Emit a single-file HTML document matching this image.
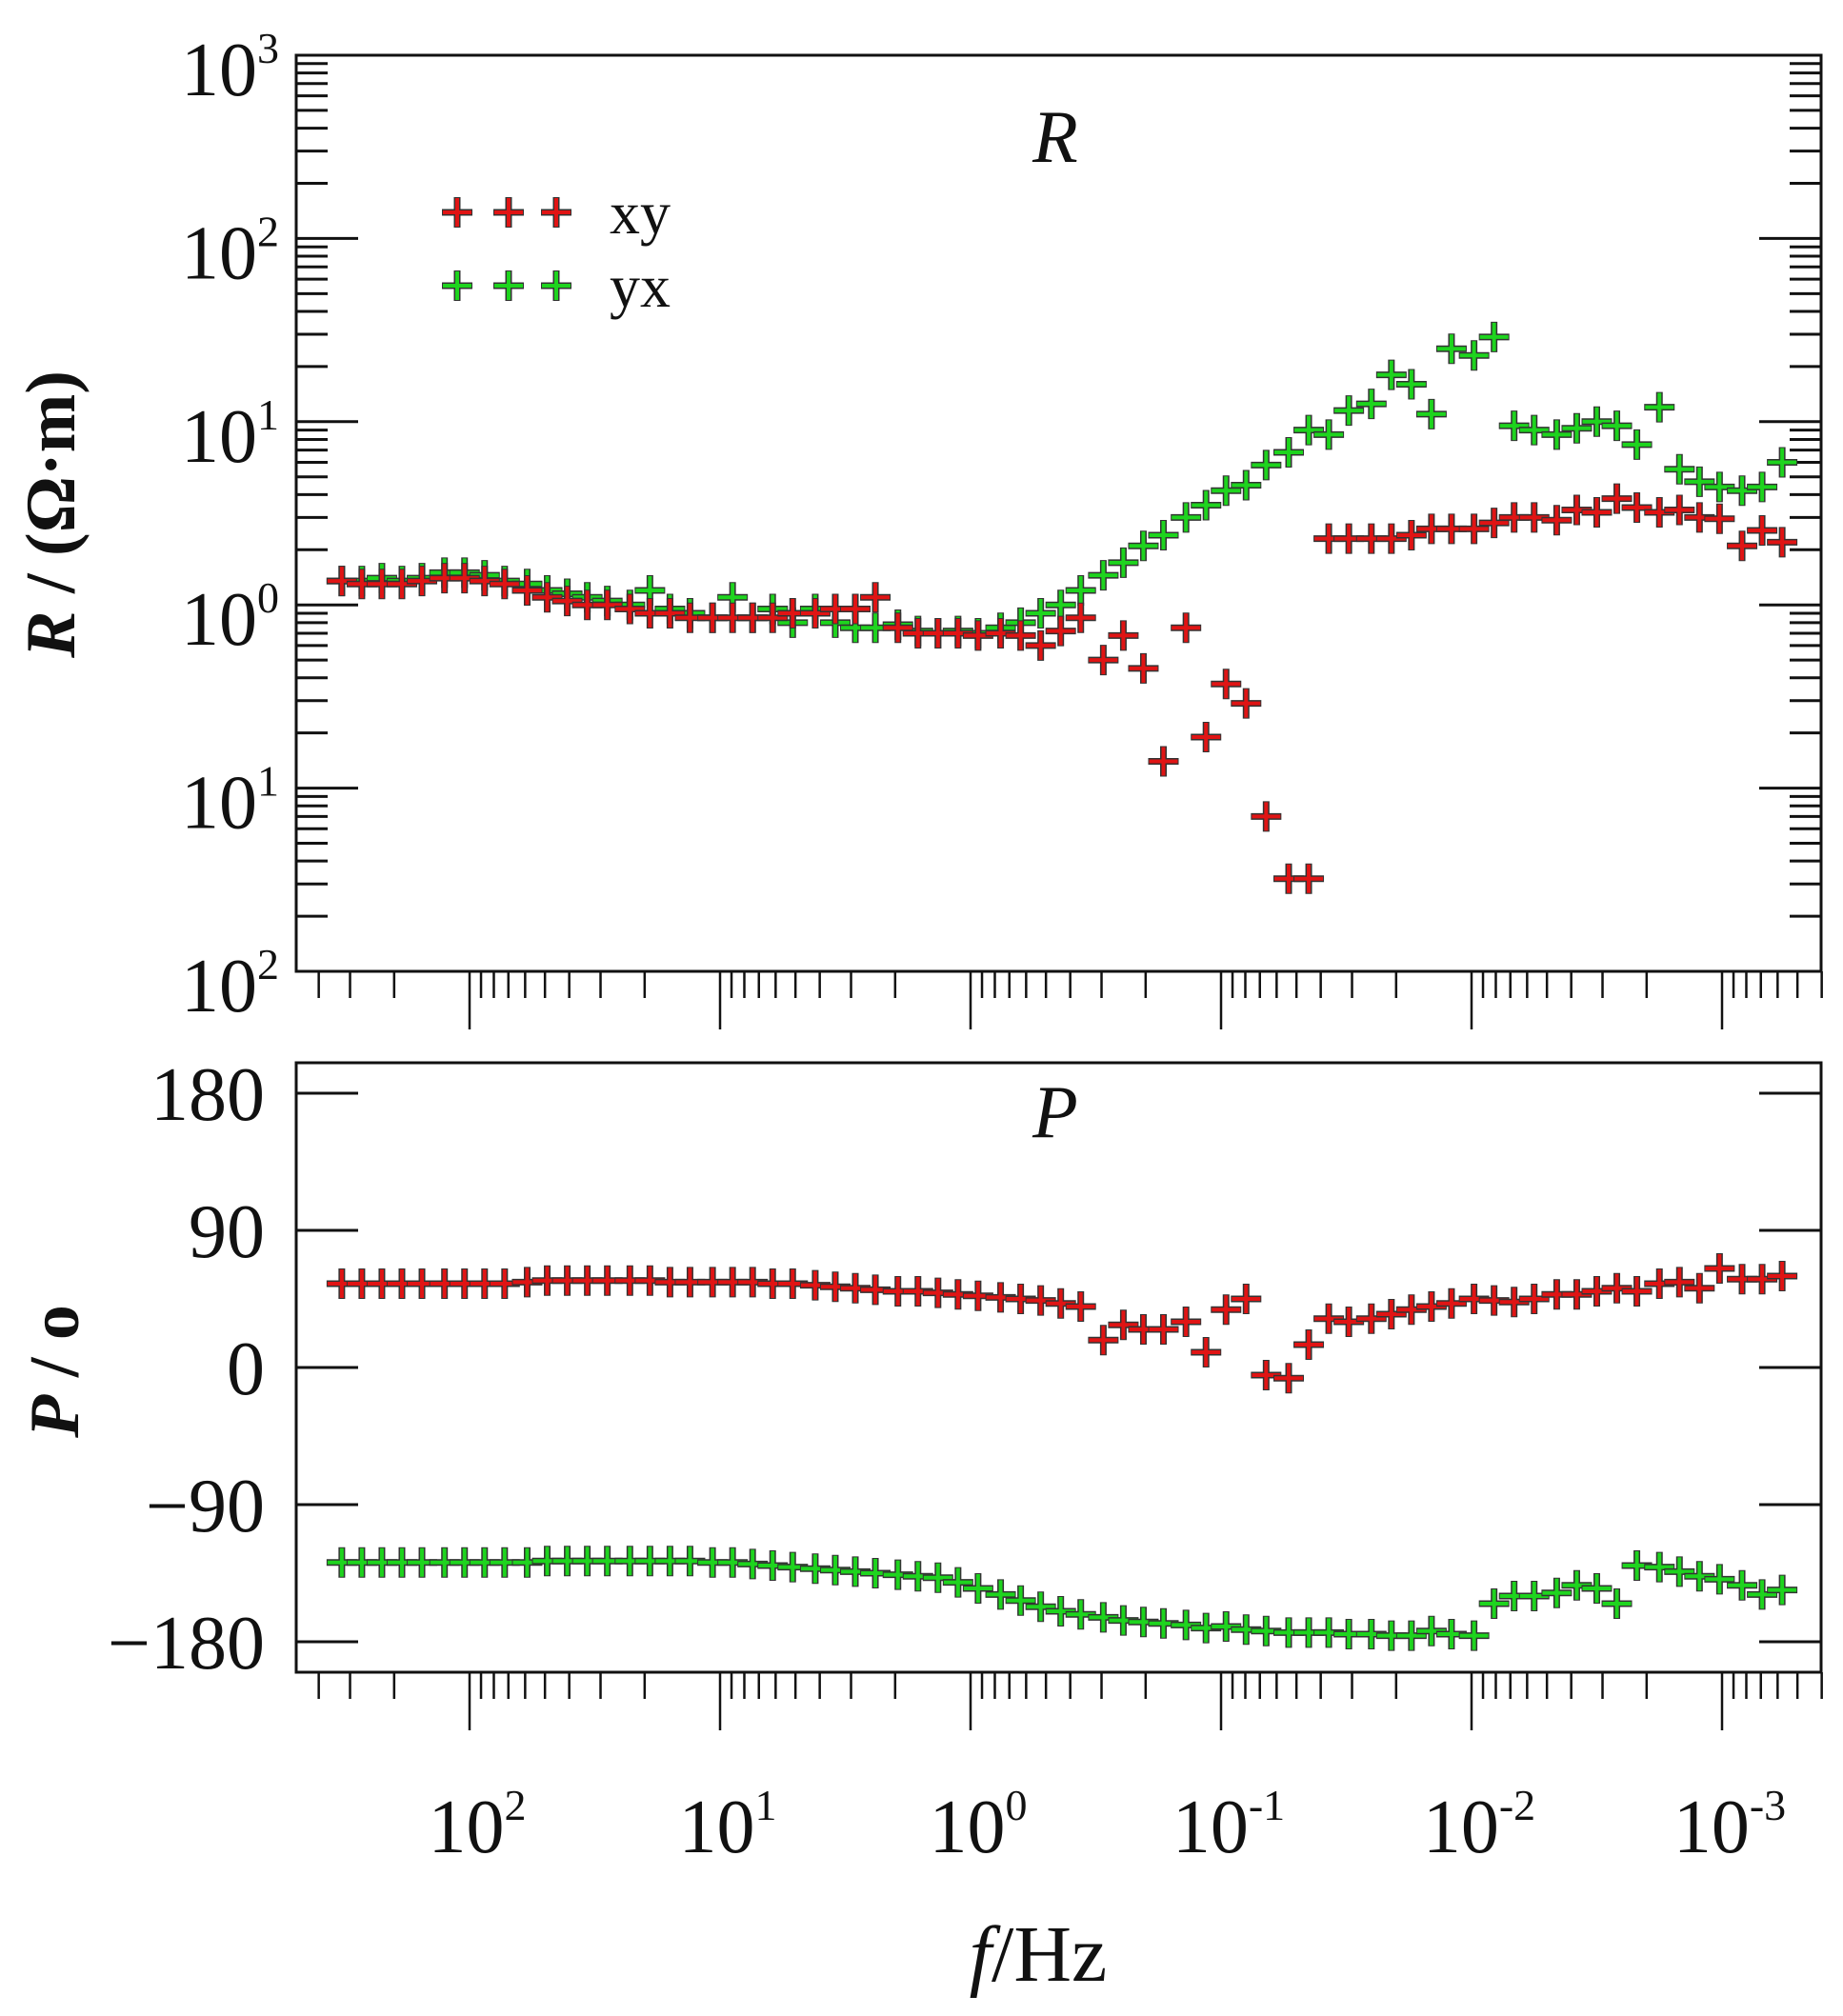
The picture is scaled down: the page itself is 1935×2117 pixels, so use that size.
<!DOCTYPE html>
<html><head><meta charset="utf-8"><style>
html,body{margin:0;padding:0;background:#fff}
svg{display:block}
text{font-family:"Liberation Serif","Times New Roman",serif;fill:#111}
</style></head><body>
<svg id="chart" width="1935" height="2117" viewBox="0 0 1935 2117" xmlns="http://www.w3.org/2000/svg">
<g id="axes"></g>
<g id="marks"></g>
</svg>
<script>
const logFreq = [2.51,2.43,2.35,2.27,2.19,2.10,2.02,1.94,1.86,1.77,1.69,1.61,1.53,1.45,1.36,1.28,1.20,1.12,1.03,0.95,0.87,0.79,0.71,0.62,0.54,0.46,0.38,0.29,0.21,0.13,0.05,-0.03,-0.12,-0.20,-0.28,-0.36,-0.44,-0.53,-0.61,-0.69,-0.77,-0.86,-0.94,-1.02,-1.10,-1.18,-1.27,-1.35,-1.43,-1.51,-1.60,-1.68,-1.76,-1.84,-1.92,-2.01,-2.09,-2.17,-2.25,-2.34,-2.42,-2.50,-2.58,-2.66,-2.75,-2.83,-2.91,-2.99,-3.08,-3.16,-3.24];
const resXY = [1.35,1.3,1.3,1.3,1.35,1.4,1.4,1.35,1.3,1.2,1.1,1.05,1.0,1.0,0.95,0.9,0.9,0.85,0.85,0.85,0.85,0.85,0.9,0.9,0.95,0.95,1.1,0.75,0.7,0.7,0.7,0.68,0.7,0.68,0.6,0.72,0.85,0.5,0.68,0.45,0.14,0.75,0.19,0.37,0.29,0.07,0.032,0.032,2.3,2.3,2.3,2.3,2.4,2.6,2.6,2.6,2.8,3.0,3.0,2.9,3.3,3.2,3.8,3.4,3.2,3.3,3.0,2.95,2.1,2.55,2.2];
const resYX = [1.35,1.35,1.4,1.35,1.4,1.5,1.5,1.45,1.35,1.3,1.2,1.15,1.1,1.05,1.0,1.2,0.95,0.9,0.85,1.1,0.85,0.95,0.8,0.95,0.8,0.75,0.75,0.78,0.72,0.7,0.72,0.7,0.75,0.8,0.9,1.0,1.2,1.45,1.7,2.1,2.4,3.0,3.5,4.2,4.5,5.8,6.8,9.0,8.5,11.5,12.5,18,16,11,25,23,29,9.5,9,8.5,9.2,10,9.5,7.5,12,5.5,4.7,4.4,4.2,4.4,6.0];
const phaseXY = [55,55,55,55,55,55,55,55,55,56,57,57,57,57,57,57,56,56,56,56,56,55,55,54,53,52,51,50,50,49,48,47,46,45,44,42,40,18,28,25,25,30,10,38,45,-5,-7,15,32,30,32,35,38,40,42,45,44,43,45,48,48,50,52,50,55,56,52,65,58,58,60];
const phaseYX = [-128,-128,-128,-128,-128,-128,-128,-128,-128,-128,-127,-127,-127,-127,-127,-127,-127,-127,-128,-128,-129,-130,-131,-132,-133,-134,-135,-136,-137,-138,-141,-145,-149,-153,-157,-160,-162,-164,-166,-167,-168,-169,-171,-170,-172,-173,-174,-174,-174,-175,-175,-176,-176,-173,-175,-176,-155,-150,-150,-148,-143,-145,-155,-130,-131,-134,-137,-139,-143,-149,-146];
const xDecades = [2,1,0,-1,-2,-3];
const xDecadeSup = ["2","1","0","-1","-2","-3"];
const rDecades = [3,2,1,0,-1,-2];
const rDecadeSup = ["3","2","1","0","1","2"];
const pTicks = [180,90,0,-90,-180];
const pTickLabels = ["180","90","0","\u221290","\u2212180"];

const NS="http://www.w3.org/2000/svg";
const L=311,R=1912,T1=58,B1=1020,T2=1116,B2=1756;
function xs(lf){return 493+(2-lf)*263;}
function yR(v){return T1+(3-Math.log10(v))*192.4;}
function yP(d){return 1436-d/90*144;}
const axes=document.getElementById('axes'), marks=document.getElementById('marks');
function mk(tag,attrs,parent){const e=document.createElementNS(NS,tag);for(const k in attrs)e.setAttribute(k,attrs[k]);parent.appendChild(e);return e;}
function line(x1,y1,x2,y2,w,parent,name){const e=mk('line',{x1:x1,y1:y1,x2:x2,y2:y2,stroke:'#111','stroke-width':w},parent);

return e;}

[[T1,B1,'r-plot-frame'],[T2,B2,'p-plot-frame']].forEach(([t,b,n])=>{
 const r=mk('rect',{x:L,y:t,width:R-L,height:b-t,fill:'none',stroke:'#111','stroke-width':3},axes);
 
 
});
[B1,B2].forEach(b=>{
 for(let d=3;d>=-4;d--){
  for(let m=1;m<=9;m++){
   const lf=d+Math.log10(m); const x=xs(lf);
   if(x<L-1||x>R+1)continue;
   line(x,b,x,b+(m===1?61:28),2.5,axes,m===1?'x-major-tick':'x-minor-tick');
  }
 }
});
rDecades.forEach((d,i)=>{
 const y=yR(Math.pow(10,d));
 line(L,y,L+65,y,3,axes,'y-major-tick');line(R,y,R-65,y,3,axes,'y-major-tick');
 if(i<rDecades.length-1){for(let m=2;m<=9;m++){const yy=yR(Math.pow(10,d-1)*m);
  line(L,yy,L+33,yy,3,axes,'y-minor-tick');line(R,yy,R-33,yy,3,axes,'y-minor-tick');}}
 const t=mk('text',{x:293,y:y+42,'font-size':80,'text-anchor':'end'},axes);
 
 
 t.innerHTML='10<tspan dy="-34" font-size="46">'+rDecadeSup[i]+'</tspan>';
});
pTicks.forEach((d,i)=>{
 const y=yP(d);
 line(L,y,L+65,y,3,axes,'p-major-tick');line(R,y,R-65,y,3,axes,'p-major-tick');
 const t=mk('text',{x:278,y:y+28,'font-size':80,'text-anchor':'end'},axes);
 
 
 t.textContent=pTickLabels[i];
});
xDecades.forEach((d,i)=>{
 const t=mk('text',{x:xs(d)+8,y:1945,'font-size':80,'text-anchor':'middle'},axes);
 
 
 t.innerHTML='10<tspan dy="-34" font-size="46">'+xDecadeSup[i]+'</tspan>';
});
function txt(x,y,s,size,name,extra){const t=mk('text',Object.assign({x:x,y:y,'font-size':size,'text-anchor':'middle'},extra||{}),axes);
 
 
 t.innerHTML=s;return t;}
txt(1108,170,'R',78,'r-panel-title',{'font-style':'italic'});
txt(1108,1194,'P',78,'p-panel-title',{'font-style':'italic'});
txt(1090,2080,'<tspan font-style="italic">f</tspan>/Hz',84,'x-axis-title');
txt(0,0,'<tspan font-style="italic">R</tspan> / (Ω·m)',74,'r-axis-title',{transform:'translate(78,540) rotate(-90)','font-weight':'bold'});
txt(0,0,'<tspan font-style="italic">P</tspan> / o',74,'p-axis-title',{transform:'translate(82,1440) rotate(-90)','font-weight':'bold'});

function plus(x,y,col,name){
 const g=mk('g',{},marks);
 
 
 const h=16;
 mk('path',{d:`M${x-h} ${y}H${x+h}M${x} ${y-h}V${y+h}`,stroke:'#333','stroke-width':7},g);
 mk('path',{d:`M${x-h+1} ${y}H${x+h-1}M${x} ${y-h+1}V${y+h-1}`,stroke:col,'stroke-width':4},g);
}
const RED='#e01414',GREEN='#1ed41e';
logFreq.forEach((lf,i)=>{
 plus(xs(lf),yR(resYX[i]),GREEN,'rho-yx-point');
});
logFreq.forEach((lf,i)=>{
 plus(xs(lf),yR(resXY[i]),RED,'rho-xy-point');
});
logFreq.forEach((lf,i)=>{
 plus(xs(lf),yP(phaseXY[i]),RED,'phase-xy-point');
 plus(xs(lf),yP(phaseYX[i]),GREEN,'phase-yx-point');
});
[[223,RED,'xy'],[300,GREEN,'yx']].forEach(([y,c,s])=>{
 [480,534,584].forEach(x=>plus(x,y,c,'legend-marker-'+s));
 const t=mk('text',{x:640,y:y+22,'font-size':64},axes);
 
 
 t.textContent=s;
});
</script>
</body></html>
